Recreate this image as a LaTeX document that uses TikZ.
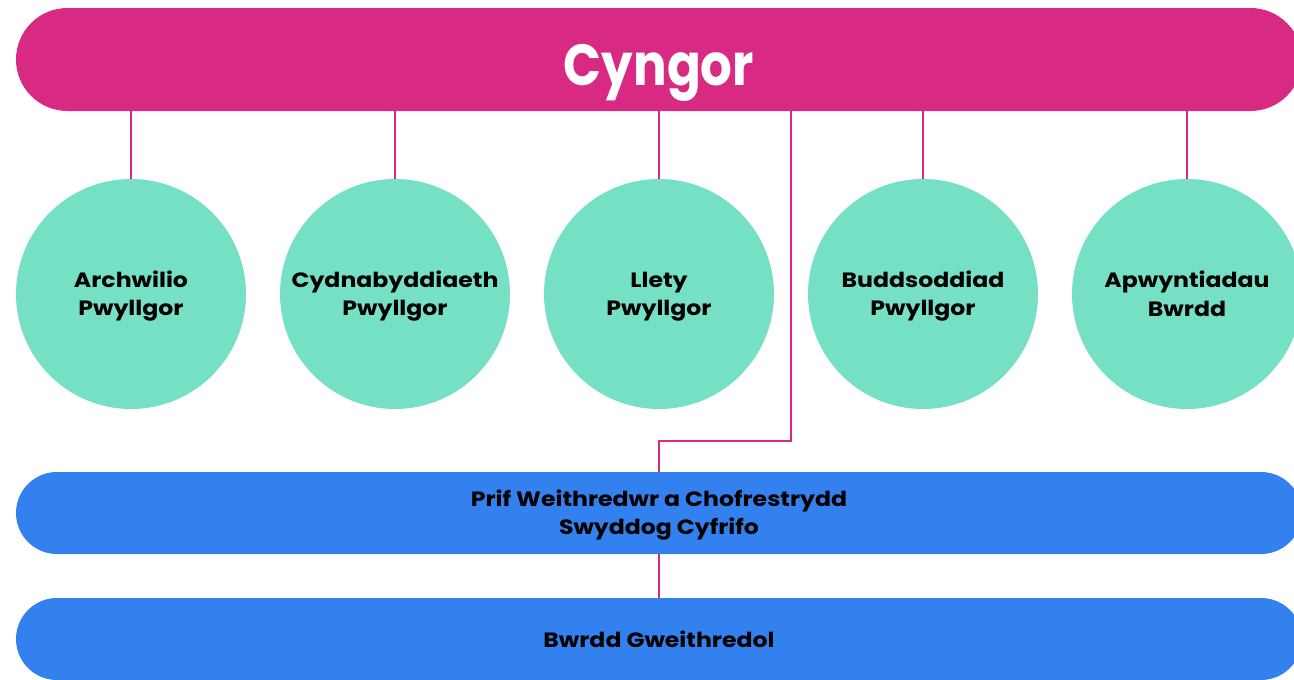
\documentclass[tikz,border=0pt]{standalone}
\usepackage{fontspec}
\setmainfont{Poppins}[FakeStretch=1.14]
\newfontfamily\titlefont{Poppins}[FakeStretch=0.86]
\definecolor{magentab}{HTML}{D82A82}
\definecolor{tealc}{HTML}{75E0C3}
\definecolor{blueb}{HTML}{3381EE}
\newcommand\tl{\rule[-4.3pt]{0pt}{24.3pt}}
\begin{document}
\begin{tikzpicture}[x=1pt,y=-1pt,
  topbar/.style={fill=magentab, rounded corners=51.5pt, minimum width=1286pt, minimum height=103pt, inner sep=0pt, text=white, text height=51pt, text depth=0pt, font=\titlefont\fontsize{58}{60}\selectfont\bfseries},
  circ/.style={circle, fill=tealc, minimum size=230pt, inner sep=0pt, align=center, font=\fontsize{20.7}{28.3}\selectfont\bfseries},
  bluebar/.style={fill=blueb, rounded corners=41pt, minimum width=1286pt, minimum height=82pt, inner sep=0pt, align=center, font=\fontsize{20.7}{28.3}\selectfont\bfseries},
  conn/.style={draw=magentab, line width=2.2pt}]
\useasboundingbox (0,0) rectangle (1294,680);
\clip (0,0) rectangle (1294,680);
\node[topbar] (cyngor) at (659,59.5) {Cyngor};
\node[circ] (c1) at (131,294) {\tl Archwilio\\\tl Pwyllgor};
\node[circ] (c2) at (395,294) {\tl Cydnabyddiaeth\\\tl Pwyllgor};
\node[circ] (c3) at (659,294) {\tl Llety\\\tl Pwyllgor};
\node[circ] (c4) at (923,294) {\tl Buddsoddiad\\\tl Pwyllgor};
\node[circ] (c5) at (1187,294) {\tl Apwyntiadau\\\tl Bwrdd};
\node[bluebar] (prif) at (659,513) {\tl Prif Weithredwr a Chofrestrydd\\\tl Swyddog Cyfrifo};
\node[bluebar, text height=20pt, text depth=2.6pt] (bwrdd) at (659,639) {Bwrdd Gweithredol};
\coordinate (elbow) at (791,441);
\foreach \c in {c1,c2,c3,c4,c5}{
  \draw[conn] (cyngor.south -| \c.north) -- (\c.north);
}
\draw[conn] (cyngor.south -| elbow) -- (elbow) -| (prif.north);
\draw[conn] (prif.south) -- (bwrdd.north);
\end{tikzpicture}
\end{document}
